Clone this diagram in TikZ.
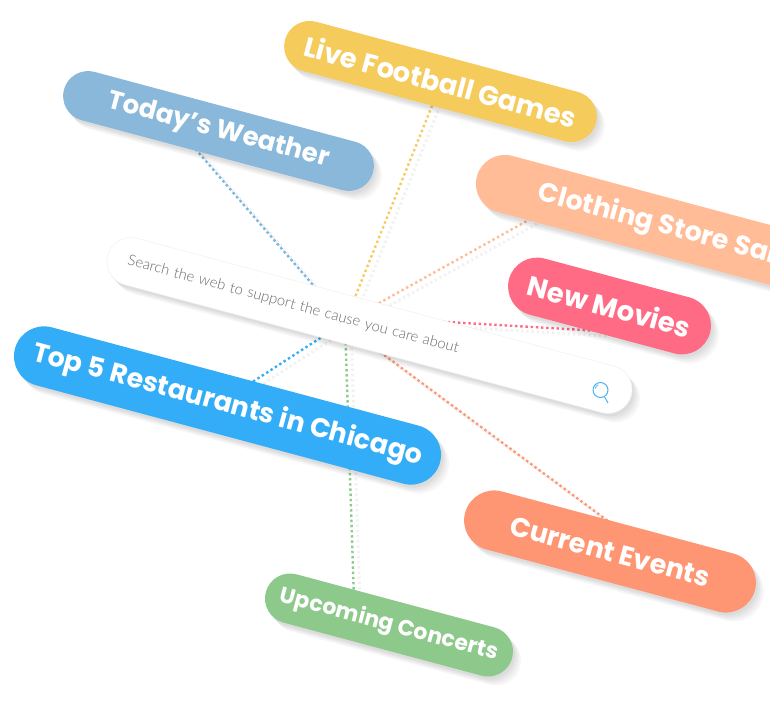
\documentclass[tikz,border=0pt]{standalone}
\usepackage{fontspec}
\setmainfont{Poppins}
\newfontfamily\searchfont{Lato}[UprightFont=* Light]
\usetikzlibrary{shadows,calc,backgrounds}
\definecolor{PillSky}{HTML}{89B8DA}
\definecolor{PillGold}{HTML}{F5CB5C}
\definecolor{PillPeach}{HTML}{FFBC96}
\definecolor{PillRose}{HTML}{FF6B85}
\definecolor{PillBlue}{HTML}{33ADF7}
\definecolor{PillCoral}{HTML}{FF9673}
\definecolor{PillGreen}{HTML}{8EC98C}
\definecolor{SearchGrey}{HTML}{6A6A6A}
\definecolor{LensBlue}{HTML}{4CB4F0}
\tikzset{
  softshadow/.style={
    drop shadow={shadow xshift=2pt,shadow yshift=-3pt,fill=black,opacity=0.04},
    drop shadow={shadow xshift=4pt,shadow yshift=-5pt,fill=black,opacity=0.04},
    drop shadow={shadow xshift=6pt,shadow yshift=-7pt,fill=black,opacity=0.035},
    drop shadow={shadow xshift=8pt,shadow yshift=-9pt,fill=black,opacity=0.03}},
  pill/.style={rectangle, rounded corners=#1, rotate=-15, inner sep=0pt,
    text=white, softshadow, minimum height=2*#1},
  searchbar/.style={rectangle, rounded corners=24pt, rotate=-15, fill=white,
    draw=black!6, line width=0.5pt, minimum height=48pt, inner ysep=0pt,
    inner xsep=21pt, text width=500pt, align=left, text=SearchGrey,
    font=\searchfont\fontsize{14.8}{18}\selectfont, softshadow},
  link/.style={line width=2.4pt, dash pattern=on 2.4pt off 2.8pt,
    preaction={draw=black!5, line width=3pt,
      dash pattern=on 2.4pt off 2.8pt, transform canvas={shift={(6pt,-5pt)}}}}
}

\begin{document}
\begin{tikzpicture}[x=1pt, y=-1pt]

\path[use as bounding box, clip] (0,0) rectangle (770,725);

\coordinate (hub) at (345,322);

\node[searchbar, minimum width=542pt] (search) at (369.5,325.5) {Search the web to support the cause you care about};
\node[circle, draw=LensBlue, line width=1pt, minimum size=15pt, inner sep=0pt] (lens) at (600.5,390) {};
\draw[LensBlue, line width=1pt] (lens.-60) -- ++(3.5,6);
\draw[LensBlue, line width=0.8pt] (lens.170) ++(2.5,0) arc[start angle=170, end angle=110, radius=5pt];

\node[pill=25pt, fill=PillSky, minimum width=320pt, font=\bfseries\fontsize{26}{31}\selectfont] (weather) at (218.5,131) {Today’s Weather};
\node[pill=25.5pt, fill=PillGold, minimum width=322pt, font=\bfseries\fontsize{27.3}{33}\selectfont] (football) at (440.5,81.5) {Live Football Games};
\node[pill=29pt, fill=PillPeach, minimum width=404pt, font=\bfseries\fontsize{26.8}{32}\selectfont] (clothing) at (672,228.7) {Clothing Store Sales};
\node[pill=29pt, fill=PillRose, minimum width=208pt, font=\bfseries\fontsize{27.5}{33}\selectfont] (movies) at (609.5,306) {New Movies};
\node[pill=30pt, fill=PillBlue, minimum width=440pt, font=\bfseries\fontsize{26.8}{32}\selectfont] (chicago) at (227.5,405.5) {Top 5 Restaurants in Chicago};
\node[pill=30pt, fill=PillCoral, minimum width=300pt, font=\bfseries\fontsize{27}{33}\selectfont] (events) at (610,551.5) {Current Events};
\node[pill=25pt, fill=PillGreen, minimum width=255pt, font=\bfseries\fontsize{22}{27}\selectfont] (concerts) at (389,625) {Upcoming Concerts};

\begin{scope}[on background layer]
\draw[link, PillSky!80!PillBlue]  ($(weather.center)+(-23,18)$)  -- (hub);
\draw[link, PillGold]             ($(football.center)+(-4.5,14.5)$) -- (hub);
\draw[link, PillPeach]            ($(clothing.center)+(-132,-15)$)  -- (hub);
\draw[link, PillRose]             ($(movies.center)+(-9,25)$)    -- ([yshift=6pt]hub);
\draw[link, PillBlue]             ($(chicago.center)+(12.5,-15.5)$) -- (hub);
\draw[link, PillCoral]            ($(events.center)+(10,-21.5)$) -- ([yshift=-4pt]hub);
\draw[link, PillGreen]            ($(concerts.center)+(-35,-25)$) -- (hub);
\end{scope}

\end{tikzpicture}
\end{document}
